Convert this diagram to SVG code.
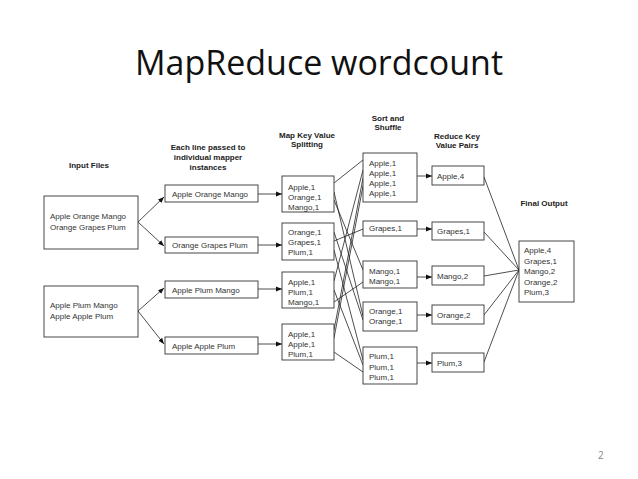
<svg xmlns="http://www.w3.org/2000/svg" width="638" height="479" viewBox="0 0 638 479">
<style>
.bx{fill:#fff;stroke:#333;stroke-width:0.9}
.t{font-family:"Liberation Sans",Arial,sans-serif;font-size:8px;fill:#333}
.h{font-family:"Liberation Sans",Arial,sans-serif;font-size:8px;font-weight:bold;fill:#222;text-anchor:middle}
.c{stroke:#222;stroke-width:0.8;fill:none}
.a{stroke:#222;stroke-width:0.8;fill:none;marker-end:url(#ah)}
</style>
<defs>
<marker id="ah" viewBox="0 0 10 10" refX="10" refY="5" markerWidth="6" markerHeight="6" markerUnits="userSpaceOnUse" orient="auto">
<path d="M0,1 L10,5 L0,9 z" fill="#111"/>
</marker>
</defs>
<rect width="638" height="479" fill="#fff"/>
<text x="319" y="75" text-anchor="middle" font-family="'Open Sans','Liberation Sans',sans-serif" font-size="35" fill="#111" textLength="368" lengthAdjust="spacingAndGlyphs">MapReduce wordcount</text>
<g id="headers">
<text class="h" x="89" y="168">Input Files</text>
<text class="h" x="208" y="150">Each line passed to</text>
<text class="h" x="208" y="160">individual mapper</text>
<text class="h" x="208" y="170">instances</text>
<text class="h" x="307" y="138">Map Key Value</text>
<text class="h" x="307" y="147">Splitting</text>
<text class="h" x="388" y="121">Sort and</text>
<text class="h" x="388" y="130">Shuffle</text>
<text class="h" x="457" y="139">Reduce Key</text>
<text class="h" x="457" y="148">Value Pairs</text>
<text class="h" x="544" y="206">Final Output</text>
</g>
<g id="connectors">
<line class="a" x1="138" y1="222" x2="164" y2="197"/>
<line class="a" x1="138" y1="222" x2="164" y2="246"/>
<line class="a" x1="138" y1="311" x2="164" y2="288"/>
<line class="a" x1="138" y1="311" x2="164" y2="344"/>
<line class="a" x1="258" y1="194" x2="282" y2="194"/>
<line class="a" x1="258" y1="245" x2="282" y2="245"/>
<line class="a" x1="258" y1="289" x2="282" y2="289"/>
<line class="a" x1="258" y1="344" x2="282" y2="344"/>
<line class="c" x1="334" y1="183" x2="363" y2="160"/>
<line class="c" x1="334" y1="192" x2="363" y2="316"/>
<line class="c" x1="334" y1="200" x2="363" y2="270"/>
<line class="c" x1="334" y1="232" x2="363" y2="320"/>
<line class="c" x1="334" y1="241" x2="363" y2="229"/>
<line class="c" x1="334" y1="250" x2="363" y2="360"/>
<line class="c" x1="334" y1="281" x2="363" y2="170"/>
<line class="c" x1="334" y1="290" x2="363" y2="365"/>
<line class="c" x1="334" y1="302" x2="363" y2="282"/>
<line class="c" x1="334" y1="330" x2="363" y2="178"/>
<line class="c" x1="334" y1="338" x2="363" y2="186"/>
<line class="c" x1="334" y1="352" x2="363" y2="372"/>
<line class="a" x1="417" y1="176" x2="432" y2="176"/>
<line class="a" x1="417" y1="229" x2="432" y2="229"/>
<line class="a" x1="417" y1="277" x2="432" y2="277"/>
<line class="a" x1="417" y1="315" x2="432" y2="315"/>
<line class="a" x1="417" y1="363" x2="432" y2="363"/>
<line class="c" x1="484" y1="177" x2="519" y2="270"/>
<line class="c" x1="484" y1="232" x2="519" y2="270"/>
<line class="c" x1="484" y1="276" x2="519" y2="270"/>
<line class="c" x1="484" y1="315" x2="519" y2="270"/>
<line class="c" x1="484" y1="362" x2="519" y2="270"/>
</g>
<g id="input1"><rect class="bx" x="44" y="196" width="94" height="53"/><text class="t" x="50" y="219">Apple Orange Mango</text><text class="t" x="50" y="230">Orange Grapes Plum</text></g>
<g id="input2"><rect class="bx" x="44" y="286" width="94" height="51"/><text class="t" x="50" y="308">Apple Plum Mango</text><text class="t" x="50" y="319">Apple Apple Plum</text></g>
<g id="line1"><rect class="bx" x="165" y="185" width="93" height="17"/><text class="t" x="172" y="197">Apple Orange Mango</text></g>
<g id="line2"><rect class="bx" x="165" y="237" width="93" height="16"/><text class="t" x="172" y="248">Orange Grapes Plum</text></g>
<g id="line3"><rect class="bx" x="165" y="281" width="93" height="17"/><text class="t" x="172" y="293">Apple Plum Mango</text></g>
<g id="line4"><rect class="bx" x="165" y="337" width="93" height="17"/><text class="t" x="172" y="349">Apple Apple Plum</text></g>
<g id="map1"><rect class="bx" x="282" y="176" width="52" height="36"/><text class="t" x="288" y="190">Apple,1</text><text class="t" x="288" y="200">Orange,1</text><text class="t" x="288" y="210">Mango,1</text></g>
<g id="map2"><rect class="bx" x="282" y="223" width="52" height="37"/><text class="t" x="288" y="235">Orange,1</text><text class="t" x="288" y="245">Grapes,1</text><text class="t" x="288" y="255">Plum,1</text></g>
<g id="map3"><rect class="bx" x="282" y="272" width="52" height="36"/><text class="t" x="288" y="285">Apple,1</text><text class="t" x="288" y="295">Plum,1</text><text class="t" x="288" y="305">Mango,1</text></g>
<g id="map4"><rect class="bx" x="282" y="324" width="52" height="36"/><text class="t" x="288" y="337">Apple,1</text><text class="t" x="288" y="347">Apple,1</text><text class="t" x="288" y="357">Plum,1</text></g>
<g id="shuffleApple"><rect class="bx" x="363" y="153" width="54" height="49"/><text class="t" x="369" y="166">Apple,1</text><text class="t" x="369" y="176">Apple,1</text><text class="t" x="369" y="186">Apple,1</text><text class="t" x="369" y="196">Apple,1</text></g>
<g id="shuffleGrapes"><rect class="bx" x="363" y="221" width="54" height="15"/><text class="t" x="369" y="231">Grapes,1</text></g>
<g id="shuffleMango"><rect class="bx" x="363" y="261" width="54" height="27"/><text class="t" x="369" y="274">Mango,1</text><text class="t" x="369" y="284">Mango,1</text></g>
<g id="shuffleOrange"><rect class="bx" x="363" y="302" width="54" height="29"/><text class="t" x="369" y="314">Orange,1</text><text class="t" x="369" y="324">Orange,1</text></g>
<g id="shufflePlum"><rect class="bx" x="363" y="347" width="54" height="37"/><text class="t" x="369" y="359">Plum,1</text><text class="t" x="369" y="370">Plum,1</text><text class="t" x="369" y="380">Plum,1</text></g>
<g id="reduceApple"><rect class="bx" x="432" y="166" width="52" height="19"/><text class="t" x="437" y="179">Apple,4</text></g>
<g id="reduceGrapes"><rect class="bx" x="432" y="222" width="52" height="18"/><text class="t" x="437" y="234">Grapes,1</text></g>
<g id="reduceMango"><rect class="bx" x="432" y="266" width="52" height="19"/><text class="t" x="437" y="279">Mango,2</text></g>
<g id="reduceOrange"><rect class="bx" x="432" y="305" width="52" height="19"/><text class="t" x="437" y="318">Orange,2</text></g>
<g id="reducePlum"><rect class="bx" x="432" y="353" width="52" height="19"/><text class="t" x="437" y="366">Plum,3</text></g>
<g id="final"><rect class="bx" x="519" y="241" width="55" height="61"/><text class="t" x="524" y="253">Apple,4</text><text class="t" x="524" y="263.5">Grapes,1</text><text class="t" x="524" y="274">Mango,2</text><text class="t" x="524" y="284.5">Orange,2</text><text class="t" x="524" y="295">Plum,3</text></g>
<text x="598" y="459" font-family="'Open Sans','Liberation Sans',sans-serif" font-size="10" fill="#888">2</text>
</svg>
